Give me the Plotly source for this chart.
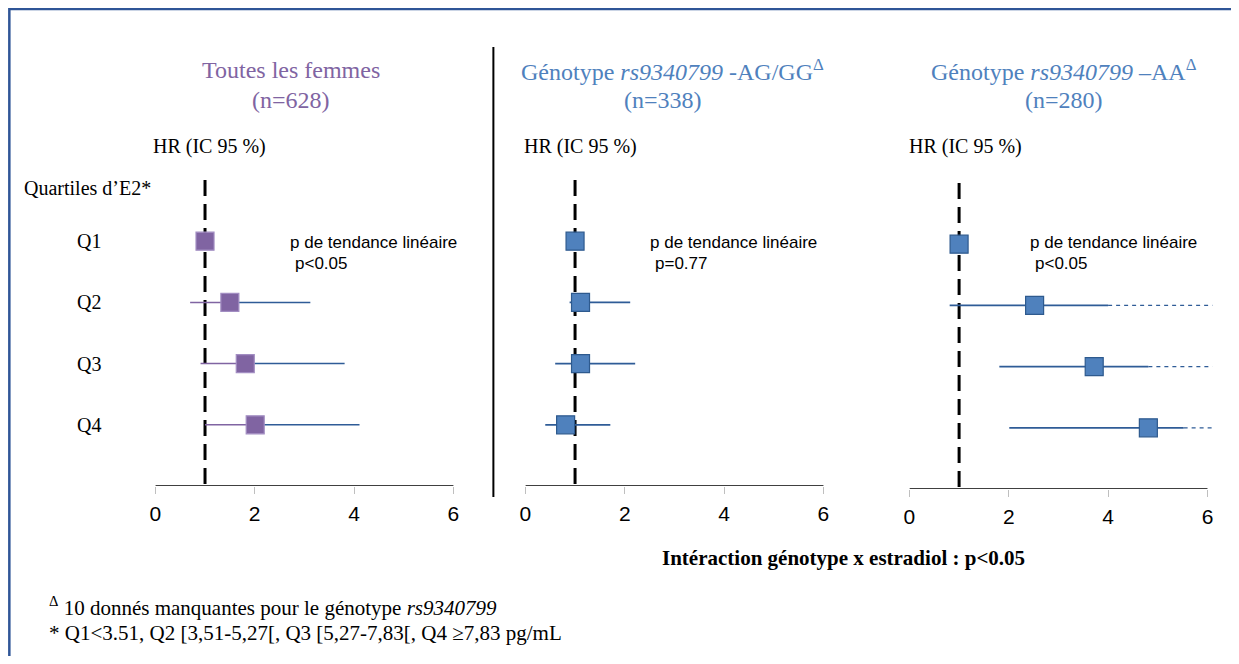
import plotly.graph_objects as go

# ---------------- data ----------------
quartiles = ["Q1", "Q2", "Q3", "Q4"]
rows = [1, 2, 3, 4]
tick_vals = [0, 2, 4, 6]

# Toutes les femmes
hr_all = [1.00, 1.50, 1.81, 2.01]
lo_all = [None, 0.70, 0.91, 1.00]
hi_all = [None, 3.12, 3.81, 4.11]

# Génotype AG/GG
hr_ag = [1.00, 1.11, 1.11, 0.81]
lo_ag = [None, 0.89, 0.60, 0.40]
hi_ag = [None, 2.11, 2.21, 1.71]

# Génotype AA (upper limits truncated: solid part then dashed to the axis end)
hr_aa = [1.00, 2.52, 3.72, 4.81]
lo_aa = [None, 0.81, 1.81, 2.01]
hi_aa_solid = [None, 4.00, 4.81, 5.52]
hi_aa_trunc = 6.1

titles = [
    ("Toutes les femmes", "(n=628)"),
    ("Génotype <i>rs9340799</i> -AG/GG<sup>Δ</sup>", "(n=338)"),
    ("Génotype <i>rs9340799</i> –AA<sup>Δ</sup>", "(n=280)"),
]
p_values = ["p<0.05", "p=0.77", "p<0.05"]

# ---------------- styling ----------------
OFF = 8                      # browser body margin
W, H = 1239 - 2 * OFF, 664 - 2 * OFF
PURPLE = "#8064A2"
PURPLE_EDGE = "#A28DC2"
BLUE = "#4F81BD"
BLUE_EDGE = "#2E5A8E"
LINE_BLUE = "#2F5C97"
SERIF = "Liberation Serif, Times New Roman, serif"
SANS = "Liberation Sans, Arial, sans-serif"

def fx(p):
    page = (p - 5.7) / 0.995
    return (page - OFF) / W

def fy(p):
    return 1 - (p - OFF) / H

SCALE = 49.67
XMAX = 6.15
origins = [155, 525, 909]
ytops = [180, 180, 183]
ybots = [486, 486, 489]

fig = go.Figure()

def seg_trace(xs, ys, color, width, axis_idx, dash="solid"):
    sfx = "" if axis_idx == 1 else str(axis_idx)
    fig.add_trace(go.Scatter(x=xs, y=ys, mode="lines",
                             line=dict(color=color, width=width, dash=dash),
                             xaxis="x" + sfx, yaxis="y" + sfx,
                             hoverinfo="skip", showlegend=False))

def marker_trace(xs, ys, fill, edge, axis_idx):
    sfx = "" if axis_idx == 1 else str(axis_idx)
    fig.add_trace(go.Scatter(x=xs, y=ys, mode="markers",
                             marker=dict(symbol="square", size=18, color=fill,
                                         line=dict(color=edge, width=1.2)),
                             xaxis="x" + sfx, yaxis="y" + sfx,
                             showlegend=False))

# Panel 1: lower part purple, upper part blue
xs_lo, ys_lo, xs_hi, ys_hi = [], [], [], []
for r, h, lo, hi in zip(rows, hr_all, lo_all, hi_all):
    if lo is None:
        continue
    xs_lo += [lo, h, None]; ys_lo += [r, r, None]
    xs_hi += [h, hi, None]; ys_hi += [r, r, None]
seg_trace(xs_lo, ys_lo, PURPLE, 1.5, 1)
seg_trace(xs_hi, ys_hi, LINE_BLUE, 1.5, 1)
marker_trace(hr_all, rows, PURPLE, PURPLE_EDGE, 1)

# Panel 2
xs, ys = [], []
for r, lo, hi in zip(rows, lo_ag, hi_ag):
    if lo is None:
        continue
    xs += [lo, hi, None]; ys += [r, r, None]
seg_trace(xs, ys, LINE_BLUE, 1.8, 2)
marker_trace(hr_ag, rows, BLUE, BLUE_EDGE, 2)

# Panel 3
xs, ys, xd, yd = [], [], [], []
for r, lo, hs in zip(rows, lo_aa, hi_aa_solid):
    if lo is None:
        continue
    xs += [lo, hs, None]; ys += [r, r, None]
    xd += [hs, hi_aa_trunc, None]; yd += [r, r, None]
seg_trace(xs, ys, LINE_BLUE, 1.8, 3)
seg_trace(xd, yd, LINE_BLUE, 1.3, 3, dash="4px,4px")
marker_trace(hr_aa, rows, BLUE, BLUE_EDGE, 3)

layout = dict(
    width=W, height=H,
    margin=dict(l=0, r=0, t=0, b=0),
    paper_bgcolor="white", plot_bgcolor="rgba(0,0,0,0)",
    showlegend=False,
)
shapes = []
annotations = []
for i in range(3):
    idx = i + 1
    sfx = "" if idx == 1 else str(idx)
    x0 = origins[i]
    layout["xaxis" + sfx] = dict(
        domain=[fx(x0), fx(x0 + XMAX * SCALE)], range=[0, XMAX],
        tickvals=tick_vals, ticks="outside", ticklen=7, tickwidth=1,
        tickcolor="#BFBFBF", showline=False, showgrid=False, zeroline=False,
        tickfont=dict(family=SANS, size=21, color="black"),
        ticklabelstandoff=2,
        anchor="y" + sfx, fixedrange=True,
    )
    layout["yaxis" + sfx] = dict(
        domain=[fy(ybots[i]), fy(ytops[i])], range=[5, 0],
        showticklabels=False, ticks="", showline=False, showgrid=False,
        zeroline=False, anchor="x" + sfx, fixedrange=True,
    )
    xr = "x" + sfx
    yr = "y" + sfx
    # axis line
    shapes.append(dict(type="line", xref=xr, yref=yr, x0=0, x1=6, y0=5, y1=5,
                       line=dict(color="black", width=1.5), layer="above"))
    # reference line at HR=1
    shapes.append(dict(type="line", xref=xr, yref=yr, x0=1, x1=1, y0=0, y1=5,
                       line=dict(color="black", width=3, dash="16px,8px"),
                       layer="below"))
    # titles
    tcol = PURPLE if i == 0 else BLUE
    cx = [291, 672, 1064][i]
    annotations.append(dict(text=titles[i][0], x=fx(cx), y=fy(70), xref="paper",
                            yref="paper", showarrow=False, xanchor="center",
                            yanchor="middle",
                            font=dict(family=SERIF, size=24, color=tcol)))
    annotations.append(dict(text=titles[i][1], x=fx([291, 663, 1064][i]), y=fy(100),
                            xref="paper", yref="paper", showarrow=False,
                            xanchor="center", yanchor="middle",
                            font=dict(family=SERIF, size=24, color=tcol)))
    # HR label
    annotations.append(dict(text="HR (IC 95 %)", x=fx([209, 580, 965][i]), y=fy(146),
                            xref="paper", yref="paper", showarrow=False,
                            xanchor="center", yanchor="middle",
                            font=dict(family=SERIF, size=20, color="black")))
    # p trend
    px0 = [288, 648, 1028][i]
    annotations.append(dict(text="p de tendance linéaire", x=fx(px0), y=fy(242),
                            xref="paper", yref="paper", showarrow=False,
                            xanchor="left", yanchor="middle",
                            font=dict(family=SANS, size=17, color="black")))
    annotations.append(dict(text=p_values[i], x=fx(px0 + 5), y=fy(263),
                            xref="paper", yref="paper", showarrow=False,
                            xanchor="left", yanchor="middle",
                            font=dict(family=SANS, size=17, color="black")))

# quartile labels
annotations.append(dict(text="Quartiles d’E2*", x=fx(22), y=fy(188), xref="paper",
                        yref="paper", showarrow=False, xanchor="left", yanchor="middle",
                        font=dict(family=SERIF, size=20, color="black")))
for q, r in zip(quartiles, rows):
    annotations.append(dict(text=q, x=fx(89), y=r, xref="paper", yref="y",
                            showarrow=False, xanchor="center", yanchor="middle",
                            font=dict(family=SERIF, size=20, color="black")))

annotations.append(dict(text="<b>Intéraction génotype x estradiol : p<0.05</b>",
                        x=fx(843), y=fy(558), xref="paper", yref="paper",
                        showarrow=False, xanchor="center", yanchor="middle",
                        font=dict(family=SERIF, size=21, color="black")))
annotations.append(dict(text="<sup>Δ</sup> 10 donnés manquantes pour le génotype <i>rs9340799</i>",
                        x=fx(47), y=fy(606), xref="paper", yref="paper",
                        showarrow=False, xanchor="left", yanchor="middle",
                        font=dict(family=SERIF, size=21, color="black")))
annotations.append(dict(text="* Q1<3.51, Q2 [3,51-5,27[, Q3 [5,27-7,83[, Q4 ≥7,83 pg/mL",
                        x=fx(47), y=fy(633), xref="paper", yref="paper",
                        showarrow=False, xanchor="left", yanchor="middle",
                        font=dict(family=SERIF, size=21, color="black")))

# separator and frame
shapes.append(dict(type="line", xref="paper", yref="paper", x0=fx(493), x1=fx(493),
                   y0=fy(47), y1=fy(497), line=dict(color="black", width=2)))
shapes.append(dict(type="rect", xref="paper", yref="paper", x0=fx(9), x1=fx(1300),
                   y0=fy(9), y1=fy(720), line=dict(color="#2F5597", width=2.5),
                   fillcolor="rgba(0,0,0,0)"))

layout["shapes"] = shapes
layout["annotations"] = annotations
fig.update_layout(**layout)
fig.write_html("out.html")
